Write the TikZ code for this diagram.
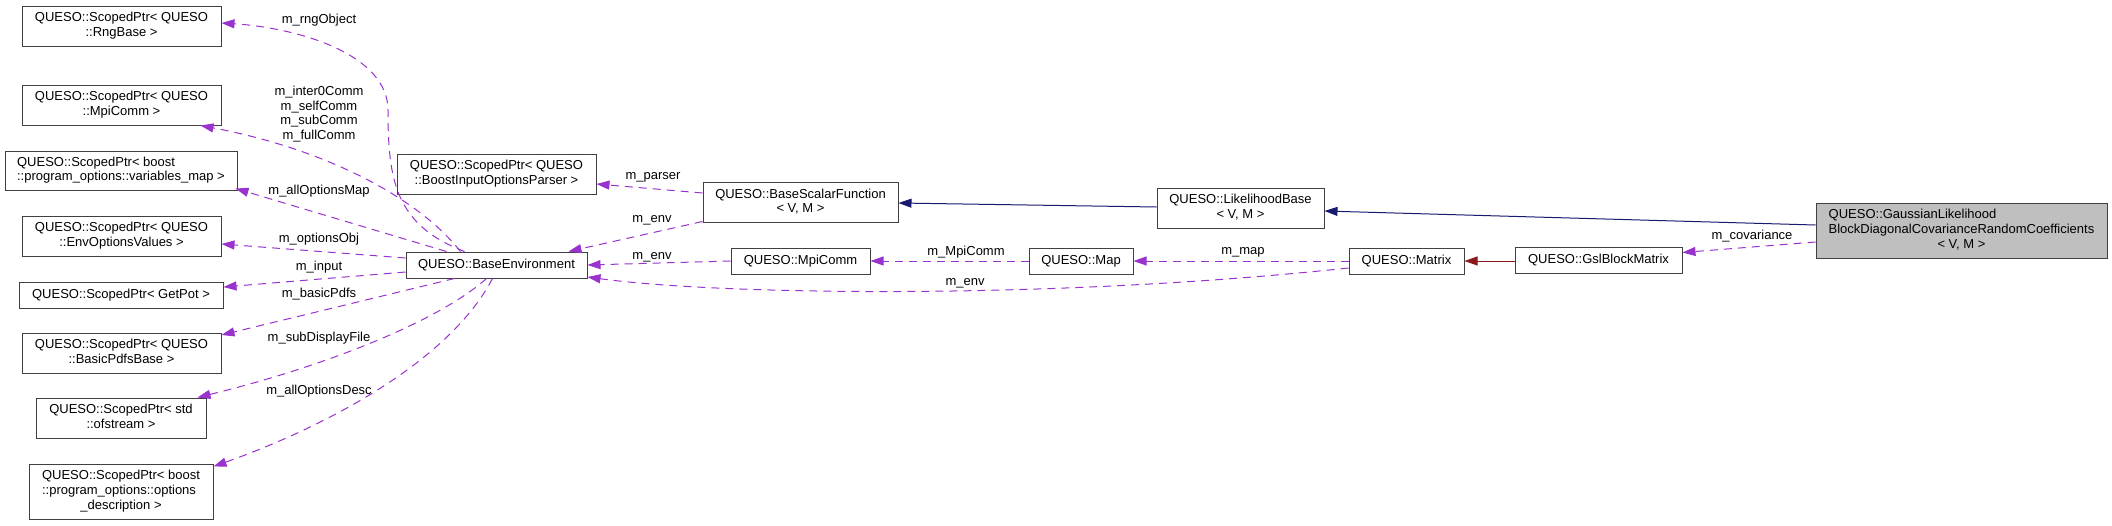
\documentclass[tikz,border=0pt]{standalone}
\usepackage{fontspec}
\setmainfont{Liberation Sans}
\usetikzlibrary{arrows.meta}
\definecolor{edgepurple}{HTML}{9A32CD}
\definecolor{edgenavy}{HTML}{191970}
\definecolor{edgered}{HTML}{8B1A1A}
\definecolor{nodegray}{HTML}{BFBFBF}
\newcommand{\dfont}{\fontsize{13}{14.7}\selectfont}
\newcommand{\twol}[2]{\begin{tabular}{@{}l@{}}#1\\\multicolumn{1}{@{}c@{}}{#2}\end{tabular}}
\newcommand{\threel}[3]{\begin{tabular}{@{}l@{}}#1\\#2\\\multicolumn{1}{@{}c@{}}{#3}\end{tabular}}

\begin{document}
\begin{tikzpicture}[x=1pt, y=-1pt,
  every node/.style={font=\dfont},
  cls/.style={draw=black!75, line width=1pt, fill=white, inner sep=0pt, minimum height=26pt},
  ptr/.style={cls, minimum width=199pt, minimum height=40pt},
  lbl/.style={inner sep=0pt, align=center},
  mem/.style={-{Triangle[length=13pt, width=9pt]}, draw=edgepurple, line width=1pt, dash pattern=on 8pt off 6pt},
  inh/.style={-{Triangle[length=13pt, width=9pt]}, draw=edgenavy, line width=1pt},
  prv/.style={-{Triangle[length=13pt, width=9pt]}, draw=edgered, line width=1pt},
]
  \path[use as bounding box, fill=white] (0,0) rectangle (2112,525);

  % left column
  \node[ptr] (rng) at (121.5,26) {\twol{QUESO::ScopedPtr< QUESO}{::RngBase >}};
  \node[ptr] (mpiptr) at (121.5,105) {\twol{QUESO::ScopedPtr< QUESO}{::MpiComm >}};
  \node[ptr, minimum width=232pt, minimum height=39pt] (varmap) at (121,170.5) {\twol{QUESO::ScopedPtr< boost}{::program\_options::variables\_map >}};
  \node[ptr] (envopt) at (121.5,236) {\twol{QUESO::ScopedPtr< QUESO}{::EnvOptionsValues >}};
  \node[cls, minimum width=204pt] (getpot) at (121,295) {QUESO::ScopedPtr< GetPot >};
  \node[ptr] (pdfs) at (121.5,353) {\twol{QUESO::ScopedPtr< QUESO}{::BasicPdfsBase >}};
  \node[ptr, minimum width=170pt] (ofs) at (121,418) {\twol{QUESO::ScopedPtr< std}{::ofstream >}};
  \node[ptr, minimum width=184pt, minimum height=55pt] (optdesc) at (121,491.5) {\threel{QUESO::ScopedPtr< boost}{::program\_options::options}{\_description >}};

  % middle
  \node[cls, minimum width=181pt] (env) at (496.5,265) {QUESO::BaseEnvironment};
  \node[ptr] (parser) at (496.5,174) {\twol{QUESO::ScopedPtr< QUESO}{::BoostInputOptionsParser >}};
  \node[cls, minimum width=195pt, minimum height=40pt] (bsf) at (800.5,202.5) {\twol{QUESO::BaseScalarFunction}{< V, M >}};
  \node[cls, minimum width=139pt] (mpi) at (800.5,261) {QUESO::MpiComm};
  \node[cls, minimum width=104pt] (map) at (1081,261) {QUESO::Map};
  \node[cls, minimum width=167pt, minimum height=40pt] (lik) at (1240.5,208) {\twol{QUESO::LikelihoodBase}{< V, M >}};
  \node[cls, minimum width=115pt] (matrix) at (1406.5,261) {QUESO::Matrix};
  \node[cls, minimum width=167pt] (gsl) at (1598.5,260) {QUESO::GslBlockMatrix};
  \node[cls, fill=nodegray, minimum width=291pt, minimum height=55pt] (gauss) at (1961.5,230.5) {\threel{QUESO::GaussianLikelihood}{BlockDiagonalCovarianceRandomCoefficients}{< V, M >}};

  % inheritance
  \draw[inh] ([yshift=5.5pt]gauss.west) -- ([yshift=-3pt]lik.east);
  \draw[inh] ([yshift=1pt]lik.west) -- ([yshift=-0.5pt]bsf.east);
  \draw[prv] (gsl.west |- matrix.east) -- (matrix.east);

  % members
  \draw[mem] ([yshift=-11.5pt]gauss.west) -- ([yshift=7.5pt]gsl.east);
  \draw[mem] (matrix.west) -- (map.east);
  \draw[mem] ([yshift=-7pt]matrix.west) .. controls (1050,300) and (720,295) .. ([yshift=-12pt]env.east);
  \draw[mem] (map.west) -- (mpi.east);
  \draw[mem] (mpi.west) -- (env.east);
  \draw[mem] ([yshift=-19pt]bsf.west) -- ([xshift=72pt]env.north);
  \draw[mem] ([yshift=9.5pt]bsf.west) -- ([yshift=-10pt]parser.east);
  \draw[mem] ([xshift=-32pt]env.north) .. controls (395,225) and (388,180) .. (388,110) .. controls (388,55) and (300,28) .. ([yshift=3pt]rng.east);
  \draw[mem] ([xshift=-36pt]env.north) .. controls (420,200) and (330,150) .. ([xshift=-21pt]mpiptr.south east);
  \draw[mem] ([xshift=-50pt]env.north) -- ([xshift=-2pt, yshift=2pt]varmap.south east);
  \draw[mem] ([yshift=7pt]env.west) -- ([yshift=-8pt]envopt.east);
  \draw[mem] ([yshift=-7pt]env.west) -- ([yshift=8pt]getpot.east);
  \draw[mem] ([xshift=-42pt]env.south) -- ([yshift=18pt]pdfs.east);
  \draw[mem] ([xshift=-10pt]env.south) .. controls (440,320) and (330,365) .. ([xshift=-9pt]ofs.north east);
  \draw[mem] ([xshift=-4pt]env.south) .. controls (450,360) and (330,425) .. ([yshift=-3pt]optdesc.north east);

  % labels
  \node[lbl] (lrng) at (319,20) {m\_rngObject};
  \node[lbl] (lcomm) at (319,114) {m\_inter0Comm\\m\_selfComm\\m\_subComm\\m\_fullComm};
  \node[lbl] (lmap) at (319,191) {m\_allOptionsMap};
  \node[lbl] (lobj) at (319,239) {m\_optionsObj};
  \node[lbl] (linput) at (319,267) {m\_input};
  \node[lbl] (lpdfs) at (319,294) {m\_basicPdfs};
  \node[lbl] (lfile) at (319,338) {m\_subDisplayFile};
  \node[lbl] (ldesc) at (319,391) {m\_allOptionsDesc};
  \node[lbl] (lparser) at (653,177) {m\_parser};
  \node[lbl] (lenva) at (652,220) {m\_env};
  \node[lbl] (lenvb) at (652,257) {m\_env};
  \node[lbl] (lenvc) at (965,283) {m\_env};
  \node[lbl] (lmpi) at (966,252) {m\_MpiComm};
  \node[lbl] (lmmap) at (1243,252) {m\_map};
  \node[lbl] (lcov) at (1752,236) {m\_covariance};
\end{tikzpicture}
\end{document}
